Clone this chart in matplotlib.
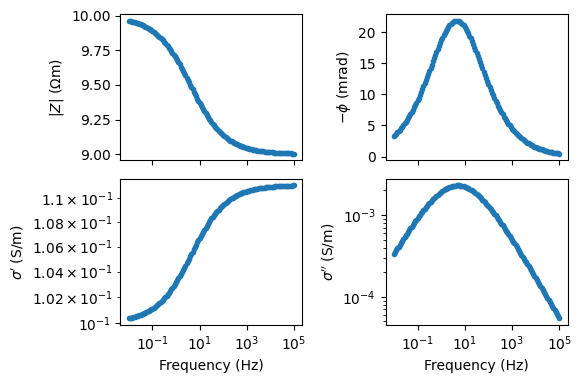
import numpy as np
import matplotlib
matplotlib.use("Agg")
import matplotlib.pyplot as plt

# Frequencies (Hz), 20 per decade from 1e-2 to 1e5
freq = [1.00e-02, 1.12e-02, 1.26e-02, 1.41e-02, 1.58e-02, 1.78e-02, 2.00e-02, 2.24e-02, 2.51e-02, 2.82e-02,
        3.16e-02, 3.55e-02, 3.98e-02, 4.47e-02, 5.01e-02, 5.62e-02, 6.31e-02, 7.08e-02, 7.94e-02, 8.91e-02,
        1.00e-01, 1.12e-01, 1.26e-01, 1.41e-01, 1.58e-01, 1.78e-01, 2.00e-01, 2.24e-01, 2.51e-01, 2.82e-01,
        3.16e-01, 3.55e-01, 3.98e-01, 4.47e-01, 5.01e-01, 5.62e-01, 6.31e-01, 7.08e-01, 7.94e-01, 8.91e-01,
        1.00e+00, 1.12e+00, 1.26e+00, 1.41e+00, 1.58e+00, 1.78e+00, 2.00e+00, 2.24e+00, 2.51e+00, 2.82e+00,
        3.16e+00, 3.55e+00, 3.98e+00, 4.47e+00, 5.01e+00, 5.62e+00, 6.31e+00, 7.08e+00, 7.94e+00, 8.91e+00,
        1.00e+01, 1.12e+01, 1.26e+01, 1.41e+01, 1.58e+01, 1.78e+01, 2.00e+01, 2.24e+01, 2.51e+01, 2.82e+01,
        3.16e+01, 3.55e+01, 3.98e+01, 4.47e+01, 5.01e+01, 5.62e+01, 6.31e+01, 7.08e+01, 7.94e+01, 8.91e+01,
        1.00e+02, 1.12e+02, 1.26e+02, 1.41e+02, 1.58e+02, 1.78e+02, 2.00e+02, 2.24e+02, 2.51e+02, 2.82e+02,
        3.16e+02, 3.55e+02, 3.98e+02, 4.47e+02, 5.01e+02, 5.62e+02, 6.31e+02, 7.08e+02, 7.94e+02, 8.91e+02,
        1.00e+03, 1.12e+03, 1.26e+03, 1.41e+03, 1.58e+03, 1.78e+03, 2.00e+03, 2.24e+03, 2.51e+03, 2.82e+03,
        3.16e+03, 3.55e+03, 3.98e+03, 4.47e+03, 5.01e+03, 5.62e+03, 6.31e+03, 7.08e+03, 7.94e+03, 8.91e+03,
        1.00e+04, 1.12e+04, 1.26e+04, 1.41e+04, 1.58e+04, 1.78e+04, 2.00e+04, 2.24e+04, 2.51e+04, 2.82e+04,
        3.16e+04, 3.55e+04, 3.98e+04, 4.47e+04, 5.01e+04, 5.62e+04, 6.31e+04, 7.08e+04, 7.94e+04, 8.91e+04,
        1.00e+05]

# Amplitude |Z| (Ohm m)
amp = [9.9647, 9.9626, 9.9604, 9.9581, 9.9556, 9.9530, 9.9503, 9.9473, 9.9443, 9.9410,
       9.9376, 9.9339, 9.9301, 9.9260, 9.9217, 9.9172, 9.9124, 9.9074, 9.9021, 9.8965,
       9.8906, 9.8844, 9.8778, 9.8709, 9.8637, 9.8561, 9.8482, 9.8398, 9.8310, 9.8219,
       9.8123, 9.8023, 9.7919, 9.7809, 9.7697, 9.7579, 9.7457, 9.7331, 9.7200, 9.7065,
       9.6927, 9.6784, 9.6637, 9.6486, 9.6333, 9.6176, 9.6017, 9.5855, 9.5691, 9.5525,
       9.5358, 9.5190, 9.5022, 9.4853, 9.4685, 9.4518, 9.4351, 9.4187, 9.4024, 9.3863,
       9.3705, 9.3551, 9.3399, 9.3251, 9.3107, 9.2966, 9.2830, 9.2697, 9.2569, 9.2446,
       9.2327, 9.2212, 9.2102, 9.1997, 9.1895, 9.1798, 9.1705, 9.1617, 9.1532, 9.1451,
       9.1374, 9.1301, 9.1231, 9.1165, 9.1102, 9.1043, 9.0986, 9.0932, 9.0881, 9.0833,
       9.0787, 9.0744, 9.0703, 9.0664, 9.0627, 9.0593, 9.0560, 9.0528, 9.0499, 9.0472,
       9.0445, 9.0421, 9.0397, 9.0375, 9.0354, 9.0334, 9.0316, 9.0298, 9.0281, 9.0265,
       9.0251, 9.0237, 9.0224, 9.0211, 9.0199, 9.0188, 9.0178, 9.0168, 9.0158, 9.0149,
       9.0141, 9.0133, 9.0126, 9.0119, 9.0112, 9.0106, 9.0100, 9.0094, 9.0089, 9.0084,
       9.0079, 9.0075, 9.0071, 9.0067, 9.0063, 9.0059, 9.0056, 9.0053, 9.0050, 9.0047,
       9.0045]

# Negative phase (mrad)
phase = [3.31, 3.50, 3.69, 3.89, 4.10, 4.32, 4.55, 4.80, 5.05, 5.32,
         5.59, 5.88, 6.19, 6.50, 6.83, 7.17, 7.52, 7.89, 8.27, 8.67,
         9.07, 9.49, 9.92, 10.37, 10.82, 11.29, 11.76, 12.25, 12.74, 13.24,
         13.75, 14.25, 14.76, 15.27, 15.78, 16.29, 16.78, 17.27, 17.75, 18.21,
         18.66, 19.09, 19.49, 19.87, 20.22, 20.55, 20.84, 21.10, 21.32, 21.50,
         21.64, 21.74, 21.80, 21.82, 21.79, 21.73, 21.61, 21.47, 21.28, 21.05,
         20.79, 20.49, 20.16, 19.81, 19.42, 19.01, 18.58, 18.13, 17.66, 17.19,
         16.69, 16.20, 15.69, 15.18, 14.67, 14.16, 13.65, 13.15, 12.65, 12.16,
         11.68, 11.20, 10.74, 10.29, 9.85, 9.42, 9.00, 8.59, 8.20, 7.82,
         7.46, 7.11, 6.77, 6.44, 6.13, 5.83, 5.54, 5.27, 5.00, 4.75,
         4.51, 4.28, 4.06, 3.85, 3.65, 3.46, 3.28, 3.11, 2.94, 2.79,
         2.64, 2.50, 2.37, 2.24, 2.12, 2.01, 1.90, 1.80, 1.70, 1.61,
         1.52, 1.44, 1.36, 1.29, 1.22, 1.15, 1.09, 1.03, 0.97, 0.92,
         0.87, 0.82, 0.77, 0.73, 0.69, 0.65, 0.62, 0.58, 0.55, 0.52,
         0.49]

# Conductivity from complex resistivity
amp_a = np.array(amp)
phi = np.array(phase) / 1000.0
sigma_re = np.cos(phi) / amp_a
sigma_im = np.sin(phi) / amp_a

fig, ax = plt.subplots(2, 2, sharex=True, figsize=(5.81, 3.83), dpi=100)
fig.subplots_adjust(left=0.2074, right=0.9768, bottom=0.1514, top=0.9634,
                    wspace=0.458, hspace=0.127)

ax[0, 0].semilogx(freq, amp, '.')
ax[0, 0].set_ylabel(r'$|Z|$ ($\Omega$m)')

ax[0, 1].semilogx(freq, phase, '.')
ax[0, 1].set_ylabel(r'$-\phi$ (mrad)')

ax[1, 0].loglog(freq, sigma_re, '.')
ax[1, 0].set_ylabel(r"$\sigma'$ (S/m)")
ax[1, 0].set_xlabel('Frequency (Hz)')

ax[1, 1].loglog(freq, sigma_im, '.')
ax[1, 1].set_ylabel(r"$\sigma''$ (S/m)")
ax[1, 1].set_xlabel('Frequency (Hz)')

plt.savefig('out.png', dpi=100)
